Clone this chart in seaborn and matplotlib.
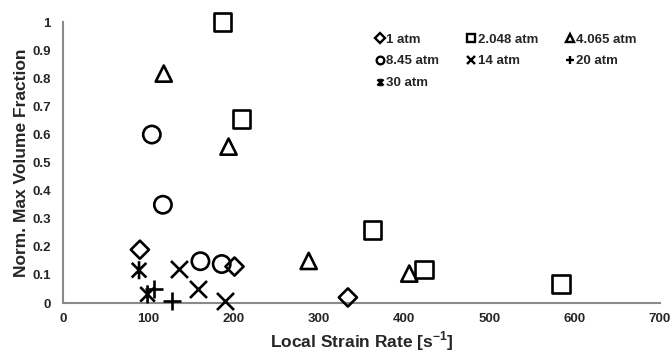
import matplotlib
matplotlib.use("Agg")
import matplotlib.pyplot as plt
from matplotlib.path import Path
import seaborn as sns
import pandas as pd

# Strain rate [1/s] and normalised max volume fraction per pressure
rate_1atm = [90, 201, 334]
frac_1atm = [0.19, 0.13, 0.02]
rate_2048atm = [187, 209, 363, 423, 584]
frac_2048atm = [1.0, 0.655, 0.26, 0.12, 0.068]
rate_4065atm = [118, 194, 288, 406]
frac_4065atm = [0.817, 0.557, 0.15, 0.105]
rate_845atm = [104, 117, 161, 186]
frac_845atm = [0.60, 0.35, 0.149, 0.139]
rate_14atm = [136, 158, 190]
frac_14atm = [0.12, 0.051, 0.007]
rate_20atm = [106, 128]
frac_20atm = [0.051, 0.006]
rate_30atm = [89, 99]
frac_30atm = [0.117, 0.031]

labels = ["1 atm", "2.048 atm", "4.065 atm", "8.45 atm", "14 atm", "20 atm", "30 atm"]
rates = [rate_1atm, rate_2048atm, rate_4065atm, rate_845atm, rate_14atm, rate_20atm, rate_30atm]
fracs = [frac_1atm, frac_2048atm, frac_4065atm, frac_845atm, frac_14atm, frac_20atm, frac_30atm]

# X with a vertical bar (asterisk-like star)
star = Path([(-0.5, -0.5), (0.5, 0.5), (-0.5, 0.5), (0.5, -0.5), (0, -0.62), (0, 0.62)],
            [Path.MOVETO, Path.LINETO, Path.MOVETO, Path.LINETO, Path.MOVETO, Path.LINETO])

markers = ["D", "s", "^", "o", "x", "+", star]
sizes = [85, 160, 135, 155, 150, 150, 170]
filled = [True, True, True, True, False, False, True]

sns.set_theme(style="white")
plt.rcParams["font.family"] = ["Liberation Sans", "DejaVu Sans"]
plt.rcParams["font.weight"] = "bold"
plt.rcParams["mathtext.fontset"] = "custom"
plt.rcParams["mathtext.rm"] = "Liberation Sans:bold"
plt.rcParams["mathtext.bf"] = "Liberation Sans:bold"

fig = plt.figure(figsize=(6.72, 3.52), dpi=100)
ax = fig.add_axes([0.094, 0.139, 0.888, 0.798])

df = pd.concat([pd.DataFrame({"rate": r, "frac": f, "p": lab})
                for r, f, lab in zip(rates, fracs, labels)], ignore_index=True)

handles = []
for lab, m, s, fl in zip(labels, markers, sizes, filled):
    sub = df[df["p"] == lab]
    if fl:
        sns.scatterplot(data=sub, x="rate", y="frac", marker=m, s=s, ax=ax,
                        facecolor="none", edgecolor="black", linewidth=1.9,
                        clip_on=False, zorder=3)
    else:
        sns.scatterplot(data=sub, x="rate", y="frac", marker=m, s=s, ax=ax,
                        color="black", linewidth=1.9, clip_on=False, zorder=3)
    h = plt.Line2D([], [], linestyle="none", marker=m, markersize=5.5,
                   markerfacecolor="none", markeredgecolor="black",
                   markeredgewidth=1.7, color="black")
    handles.append(h)

ax.set_xlim(0, 700)
ax.set_ylim(0, 1)
ax.set_xticks(range(0, 701, 100))
ax.set_yticks([i / 10 for i in range(11)])
ax.set_yticklabels(["0"] + [f"{i/10:g}" for i in range(1, 10)] + ["1"])

ax.set_xlabel(r"Local Strain Rate [s$^{\mathbf{-1}}$]", fontsize=12.5, fontweight="bold", labelpad=3)
ax.set_ylabel("Norm. Max Volume Fraction", fontsize=12.5, fontweight="bold", labelpad=2)

for side in ["top", "right"]:
    ax.spines[side].set_visible(False)
for side in ["left", "bottom"]:
    ax.spines[side].set_color("#8a8a8a")
    ax.spines[side].set_linewidth(1.5)
ax.tick_params(axis="both", which="major", direction="out", length=3, width=1,
               color="#8a8a8a", labelsize=9.5, pad=4)
ax.tick_params(axis="y", pad=6)
for t in ax.get_xticklabels() + ax.get_yticklabels():
    t.set_fontweight("bold")

# Legend reads row-wise across three columns; matplotlib fills column-first
order = [0, 3, 6, 1, 4, 2, 5]
leg_handles = [handles[i] for i in order]
leg_labels = [labels[i] for i in order]
leg = ax.legend(leg_handles, leg_labels, ncol=3, frameon=False,
                loc="upper left", bbox_to_anchor=(0.524, 0.96),
                prop={"weight": "bold", "size": 9.5},
                handlelength=0.6, handletextpad=0.2, columnspacing=2.1,
                labelspacing=0.72, borderaxespad=0, borderpad=0)

fig.savefig("out.png", dpi=100, facecolor="white")
